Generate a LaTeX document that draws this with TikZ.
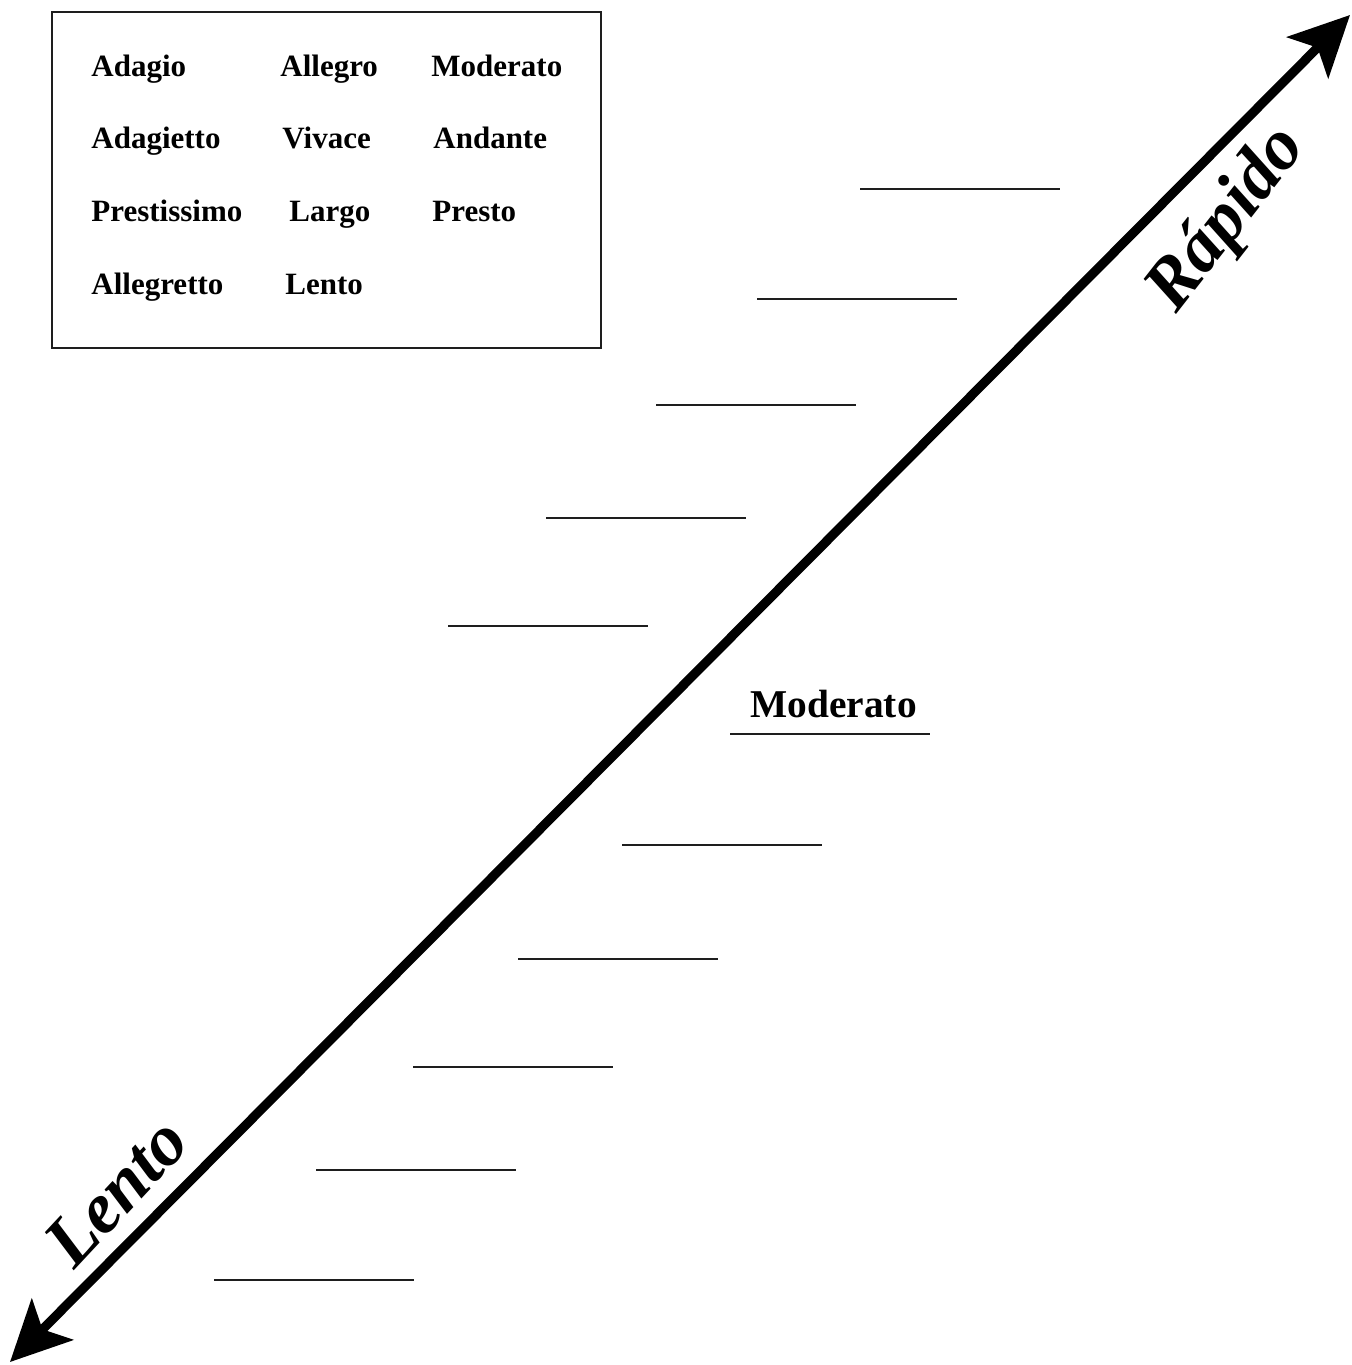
\documentclass[tikz,border=0pt]{standalone}
\usepackage{fontspec}
\setmainfont{Liberation Serif}
\usetikzlibrary{arrows.meta,positioning}
\definecolor{inkC}{RGB}{0,0,0}
\definecolor{ruleC}{RGB}{30,30,30}

\begin{document}
\begin{tikzpicture}[x=0.5pt,y=-0.5pt,>={Stealth[length=30pt,width=29pt,inset=7pt]},
  word/.style={anchor=base west,inner sep=0pt,font=\fontsize{15.5}{18}\selectfont\bfseries},
  blank/.style={ruleC,line width=1pt},
  pole/.style={inner sep=0pt,font=\fontsize{36}{40}\selectfont\bfseries\itshape}]
  \useasboundingbox (0,0) rectangle (1351,1365);
  % word bank
  \draw[ruleC,line width=0.75pt] (52,12) rectangle (601,348);
  \node[word] (adagio)      at (91,76)   {Adagio};
  \node[word] (allegro)     at (280,76)  {Allegro};
  \node[word] (moderatoA)   at (431,76)  {Moderato};
  \node[word] (adagietto)   at (91,148)  {Adagietto};
  \node[word] (vivace)      at (282,148) {Vivace};
  \node[word] (andante)     at (433,148) {Andante};
  \node[word] (prestissimo) at (91,221)  {Prestissimo};
  \node[word] (largo)       at (289,221) {Largo};
  \node[word] (presto)      at (432,221) {Presto};
  \node[word] (allegretto)  at (91,294)  {Allegretto};
  \node[word] (lento)       at (285,294) {Lento};
  % tempo axis
  \coordinate (slowEnd) at (10,1362);
  \coordinate (fastEnd) at (1350,15);
  \draw[<->,inkC,line width=4.6pt] (slowEnd) -- (fastEnd);
  \node[pole,rotate=52] (rapido) at (1228,220) {Rápido};
  \node[pole,rotate=47] (lentoPole) at (116,1192) {Lento};
  % answer lines (left end x, y)
  \foreach \x/\y in {860/189,757/299,656/405,546/518,448/626,730/734,
                     622/845,518/959,413/1067,316/1170,214/1280}{
    \draw[blank] (\x,\y) -- ++(200,0);
  }
  \node[anchor=base west,inner sep=0pt,font=\fontsize{19.7}{23}\selectfont\bfseries]
     (moderatoB) at (750,717) {Moderato};
\end{tikzpicture}
\end{document}
